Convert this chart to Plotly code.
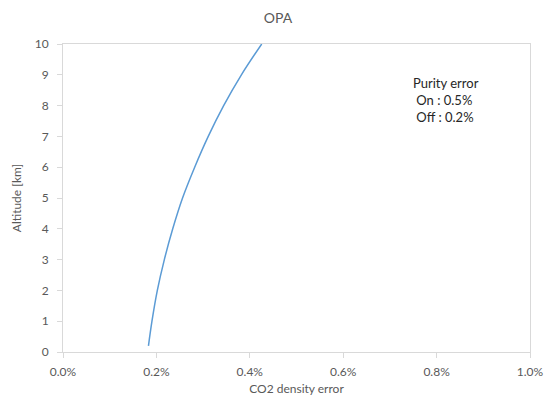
import plotly.graph_objects as go

# Data
altitude_km = [0.2, 1, 2, 3, 4, 5, 6, 7, 8, 9, 10]
co2_density_error_pct = [0.183, 0.1905, 0.202, 0.217, 0.235, 0.256, 0.282, 0.311, 0.344, 0.382, 0.4255]
x_tick_vals = [0.0, 0.2, 0.4, 0.6, 0.8, 1.0]
x_tick_text = ["0.0%", "0.2%", "0.4%", "0.6%", "0.8%", "1.0%"]
y_tick_vals = list(range(0, 11))

FONT = "Lato, 'Open Sans', sans-serif"
GRAY = "#595959"
AXIS = "#D9D9D9"

# the page body adds an 8px margin, so the figure is 8px smaller on each side
W, H = 544, 393

fig = go.Figure()
fig.add_trace(go.Scatter(
    x=co2_density_error_pct, y=altitude_km, mode="lines",
    line=dict(color="#5B9BD5", width=1.5, shape="spline", smoothing=1.0),
    showlegend=False, hoverinfo="skip",
))

fig.update_layout(
    width=W, height=H,
    margin=dict(l=55, r=22, t=36, b=49, autoexpand=False),
    paper_bgcolor="white", plot_bgcolor="white",
    font=dict(family=FONT, color=GRAY, size=12),
    title=dict(text="OPA", x=270 / W, xanchor="center", y=1 - 10 / H, yanchor="middle",
               font=dict(family=FONT, size=14, color=GRAY)),
    xaxis=dict(
        range=[0, 1.0], tickvals=x_tick_vals, ticktext=x_tick_text,
        showgrid=False, zeroline=False, automargin=False,
        showline=True, linecolor=AXIS, linewidth=1, mirror=True,
        ticks="outside", ticklen=5, tickcolor=AXIS, ticklabelstandoff=4,
        tickfont=dict(family=FONT, size=12, color=GRAY),
        title=dict(text="CO2 density error", standoff=6,
                   font=dict(family=FONT, size=12, color=GRAY)),
    ),
    yaxis=dict(
        range=[0, 10], tickvals=y_tick_vals,
        showgrid=False, zeroline=False, automargin=False,
        showline=True, linecolor=AXIS, linewidth=1, mirror=True,
        ticks="outside", ticklen=5, tickcolor=AXIS, ticklabelstandoff=6,
        tickfont=dict(family=FONT, size=12, color=GRAY),
        title=dict(text="Altitude [km]", standoff=10,
                   font=dict(family=FONT, size=12, color=GRAY)),
    ),
    annotations=[dict(
        text="Purity error<br> On : 0.5%<br> Off : 0.2%",
        xref="paper", yref="paper",
        x=(411 - 63) / (530 - 63), y=1 - (73 - 44) / (352 - 44),
        xanchor="left", yanchor="top", align="left", showarrow=False,
        font=dict(family=FONT, size=13, color="#262626"),
    )],
)

fig.write_html("out.html")
